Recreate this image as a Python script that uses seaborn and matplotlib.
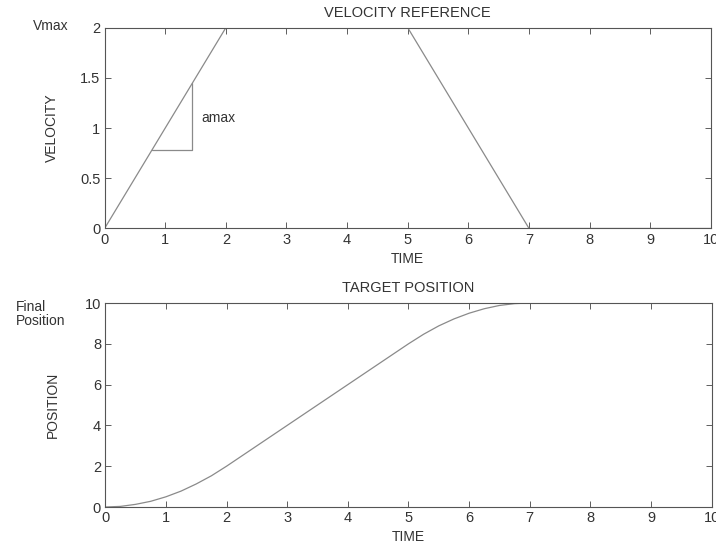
import matplotlib
matplotlib.use("Agg")
import matplotlib.pyplot as plt
import seaborn as sns
import pandas as pd

# velocity reference (trapezoid profile)
vel_time = [0, 2, 5, 7, 10]
vel_value = [0, 2, 2, 0, 0]

# target position
pos_time = [0, 0.25, 0.5, 0.75, 1, 1.25, 1.5, 1.75, 2, 2.25, 2.5, 2.75, 3,
            3.25, 3.5, 3.75, 4, 4.25, 4.5, 4.75, 5, 5.25, 5.5, 5.75, 6,
            6.25, 6.5, 6.75, 7, 10]
pos_value = [0, 0.03, 0.13, 0.28, 0.5, 0.78, 1.13, 1.53, 2, 2.5, 3, 3.5, 4,
             4.5, 5, 5.5, 6, 6.5, 7, 7.5, 8, 8.47, 8.88, 9.22, 9.5,
             9.72, 9.88, 9.97, 10, 10]

# acceleration slope triangle
tri_x = [0.78, 1.45, 1.45]
tri_y = [0.78, 0.78, 1.45]

vel_df = pd.DataFrame({"TIME": vel_time, "VELOCITY": vel_value})
pos_df = pd.DataFrame({"TIME": pos_time, "POSITION": pos_value})

sns.set_style("ticks")
plt.rcParams["font.family"] = ["Liberation Sans", "DejaVu Sans"]
plt.rcParams["font.size"] = 10
plt.rcParams["text.color"] = "#333333"
plt.rcParams["axes.labelcolor"] = "#333333"
plt.rcParams["xtick.color"] = "#444444"
plt.rcParams["ytick.color"] = "#444444"
plt.rcParams["xtick.labelcolor"] = "#333333"
plt.rcParams["ytick.labelcolor"] = "#333333"

fig = plt.figure(figsize=(7.16, 5.44), dpi=100)
ax1 = fig.add_axes([0.146, 0.580, 0.847, 0.369])
ax2 = fig.add_axes([0.147, 0.068, 0.847, 0.375])

line_col = "#8a8a8a"

sns.lineplot(data=vel_df, x="TIME", y="VELOCITY", ax=ax1, color=line_col,
             linewidth=0.9, estimator=None, sort=False)
ax1.plot(tri_x, tri_y, color=line_col, linewidth=0.9)
ax1.text(1.6, 1.1, "amax", fontsize=10, va="center")
ax1.set_xlim(0, 10)
ax1.set_ylim(0, 2)
ax1.set_yticks([0, 0.5, 1, 1.5, 2])
ax1.set_yticklabels(["0", "0.5", "1", "1.5", "2"])
ax1.set_title("VELOCITY REFERENCE", fontsize=10.5, pad=8)
ax1.text(-0.089, 1.01, "Vmax", transform=ax1.transAxes, fontsize=10,
         ha="center", va="center")

sns.lineplot(data=pos_df, x="TIME", y="POSITION", ax=ax2, color=line_col,
             linewidth=0.9, estimator=None, sort=False)
ax2.set_xlim(0, 10)
ax2.set_ylim(0, 10)
ax2.set_yticks([0, 2, 4, 6, 8, 10])
ax2.set_title("TARGET POSITION", fontsize=10.5, pad=8)
ax2.text(-0.148, 1.015, "Final\nPosition", transform=ax2.transAxes,
         fontsize=10, ha="left", va="top", linespacing=1.05)

for ax in (ax1, ax2):
    ax.set_xticks(range(0, 11))
    ax.tick_params(direction="in", top=True, right=True, length=4,
                   width=0.6, labelsize=10.5, pad=3)
    ax.set_xlabel("TIME", fontsize=10, labelpad=3.5)
    ax.yaxis.label.set_size(10)
    for s in ax.spines.values():
        s.set_color("#555555")
        s.set_linewidth(0.8)

ax1.yaxis.set_label_coords(-0.075, 0.5)
ax2.yaxis.set_label_coords(-0.075, 0.5)

fig.savefig("out.png", dpi=100)
